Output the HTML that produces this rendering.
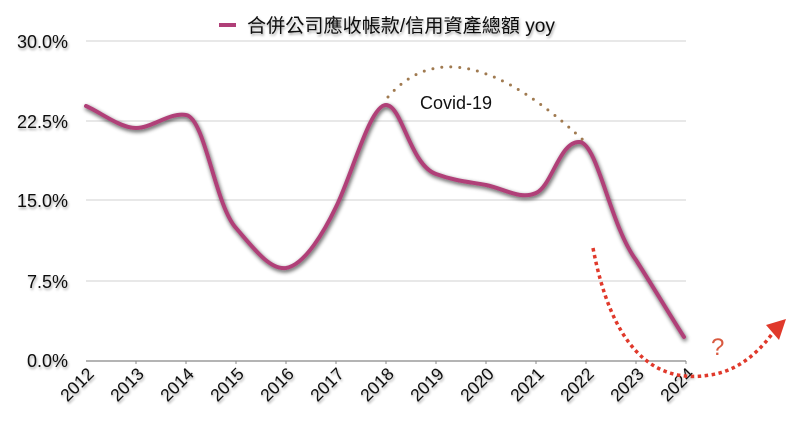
<!DOCTYPE html>
<html><head><meta charset="utf-8"><style>
body{margin:0;background:#fff;}
svg{display:block;font-family:"Liberation Sans","Noto Sans CJK TC",sans-serif;}
.yl{font-size:18px;fill:#111;text-anchor:end;}
.xl{font-size:17.5px;fill:#111;text-anchor:end;}
</style></head><body>
<svg width="800" height="435" viewBox="0 0 800 435">
<defs>
<filter id="sh" x="-10%" y="-10%" width="120%" height="130%"><feGaussianBlur in="SourceAlpha" stdDeviation="2"/><feOffset dx="1" dy="2"/><feComponentTransfer><feFuncA type="linear" slope="0.7"/></feComponentTransfer><feMerge><feMergeNode/><feMergeNode in="SourceGraphic"/></feMerge></filter>
<filter id="ts"><feGaussianBlur in="SourceAlpha" stdDeviation="1.2"/><feOffset dx="1" dy="2"/><feComponentTransfer><feFuncA type="linear" slope="0.35"/></feComponentTransfer><feMerge><feMergeNode/><feMergeNode in="SourceGraphic"/></feMerge></filter>
</defs>
<g stroke="#d9d9d9" stroke-width="1.2">
<line x1="86" y1="41" x2="686" y2="41"/><line x1="86" y1="121" x2="686" y2="121"/><line x1="86" y1="200" x2="686" y2="200"/><line x1="86" y1="281" x2="686" y2="281"/>
</g>
<line x1="86" y1="361" x2="686" y2="361" stroke="#888" stroke-width="1.2"/>
<g stroke="#888" stroke-width="1"><line x1="136" y1="361" x2="136" y2="364"/><line x1="186" y1="361" x2="186" y2="364"/><line x1="236" y1="361" x2="236" y2="364"/><line x1="286" y1="361" x2="286" y2="364"/><line x1="336" y1="361" x2="336" y2="364"/><line x1="386" y1="361" x2="386" y2="364"/><line x1="436" y1="361" x2="436" y2="364"/><line x1="486" y1="361" x2="486" y2="364"/><line x1="536" y1="361" x2="536" y2="364"/><line x1="586" y1="361" x2="586" y2="364"/><line x1="636" y1="361" x2="636" y2="364"/><line x1="686" y1="361" x2="686" y2="364"/></g>
<g filter="url(#ts)">
<text class="yl" x="68" y="48">30.0%</text><text class="yl" x="68" y="128">22.5%</text><text class="yl" x="68" y="207">15.0%</text><text class="yl" x="68" y="288">7.5%</text><text class="yl" x="68" y="367">0.0%</text>
<text transform="translate(95,375) rotate(-45)" class="xl">2012</text>
<text transform="translate(145,375) rotate(-45)" class="xl">2013</text>
<text transform="translate(195,375) rotate(-45)" class="xl">2014</text>
<text transform="translate(245,375) rotate(-45)" class="xl">2015</text>
<text transform="translate(295,375) rotate(-45)" class="xl">2016</text>
<text transform="translate(345,375) rotate(-45)" class="xl">2017</text>
<text transform="translate(395,375) rotate(-45)" class="xl">2018</text>
<text transform="translate(445,375) rotate(-45)" class="xl">2019</text>
<text transform="translate(495,375) rotate(-45)" class="xl">2020</text>
<text transform="translate(545,375) rotate(-45)" class="xl">2021</text>
<text transform="translate(595,375) rotate(-45)" class="xl">2022</text>
<text transform="translate(645,375) rotate(-45)" class="xl">2023</text>
<text transform="translate(695,375) rotate(-45)" class="xl">2024</text>
<text x="247" y="32" font-size="19" fill="#111" textLength="308" lengthAdjust="spacingAndGlyphs">合併公司應收帳款/信用資產總額 yoy</text>
</g>
<line x1="219" y1="25" x2="236" y2="25" stroke="#b03f78" stroke-width="4"/>
<path filter="url(#sh)" fill="none" stroke="#b03f78" stroke-width="4" stroke-linejoin="round" stroke-linecap="round"
d="M86,106 C100,112 120,128 136,128 C152,128 170,112 186,115 C205,118 215,205 236,228 C255,250 270,270 286,268 C305,265 325,230 336,207 C352,175 370,105 386,105 C402,105 410,165 436,174 C455,181 470,182 486,185 C505,189 520,200 536,193 C552,186 560,140 580,142 C598,145 610,225 636,260 C655,290 670,315 684,337"/>
<path d="M388,97 Q455,20 583,140" fill="none" stroke="#a07a50" stroke-width="3" stroke-dasharray="0 9" stroke-linecap="round"/>
<text x="420" y="109" font-size="18" fill="#111">Covid-19</text>
<path d="M593,248 Q620,390 710,375 Q745,370 772,334" fill="none" stroke="#e0392b" stroke-width="3.5" stroke-dasharray="3.5 3.5"/>
<polygon points="766,325 786,319 779,340" fill="#e0392b"/>
<text x="711" y="355" font-size="24" fill="#d95a40">?</text>
</svg>
</body></html>
